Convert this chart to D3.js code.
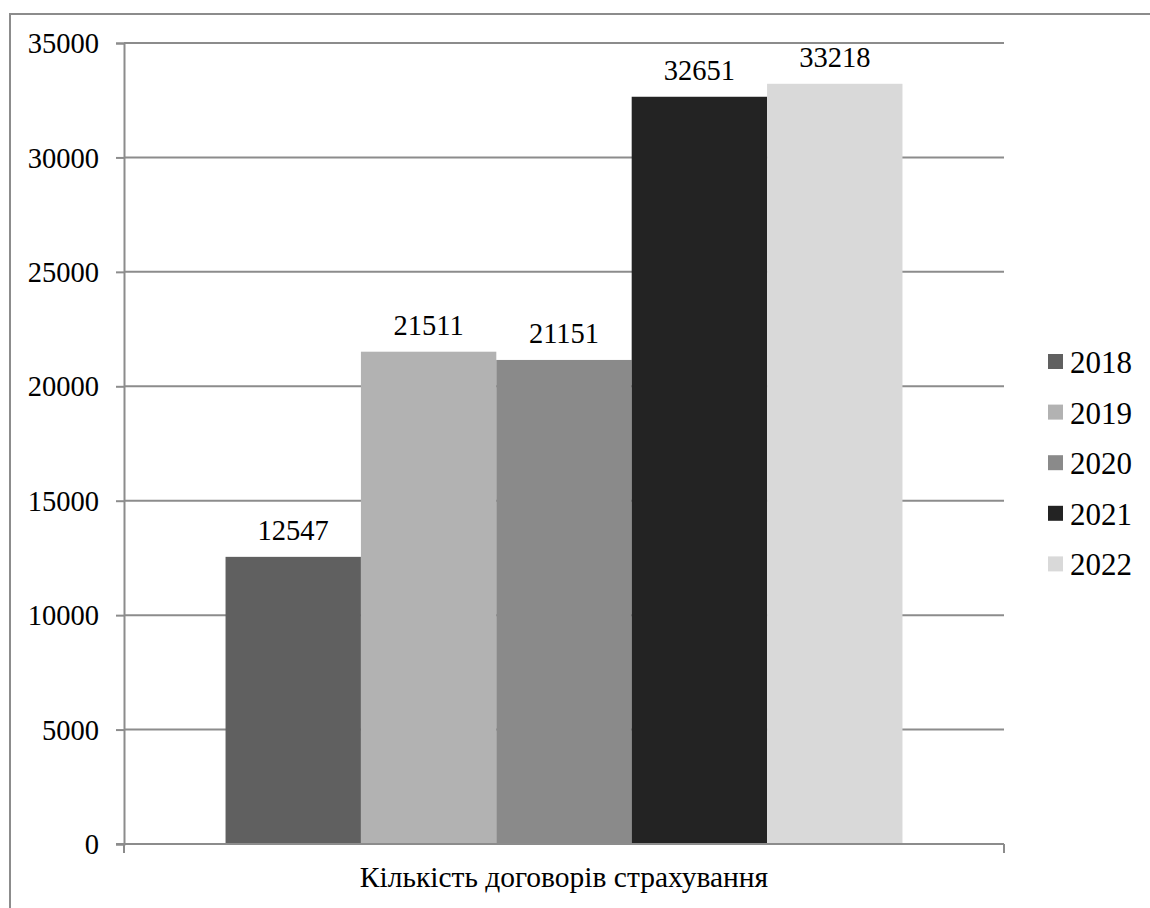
<!DOCTYPE html>
<html>
<head>
<meta charset="utf-8">
<script src="https://cdn.jsdelivr.net/npm/d3@7"></script>
<style>
    body { margin: 0; background: #fff; }
    svg { display: block; }
    text { font-family: "Liberation Serif", "Times New Roman", serif; fill: #000; }
</style>
</head>
<body>
<svg id="chart" width="1150" height="908"></svg>
<script>

// Chart data
const category = "Кількість договорів страхування";
const years = ["2018", "2019", "2020", "2021", "2022"];
const values = [12547, 21511, 21151, 32651, 33218];
const colors = ["#606060", "#b2b2b2", "#8a8a8a", "#232323", "#d9d9d9"];
const yTicks = [0, 5000, 10000, 15000, 20000, 25000, 30000, 35000];

const svg = d3.select("#chart");
const plot = { left: 124, right: 1004, top: 43, bottom: 844 };
const axisGray = "#8c8c8c";

// Outer chart border (right / bottom edges fall outside the picture).
svg.append("rect")
    .attr("x", 10)
    .attr("y", 14)
    .attr("width", 1300)
    .attr("height", 1000)
    .attr("fill", "none")
    .attr("stroke", axisGray)
    .attr("stroke-width", 2);

// Scales
const y = d3.scaleLinear()
    .domain([0, 35000])
    .range([plot.bottom, plot.top]);

// One category, 150% gap width -> outer padding of 0.15 step on each side.
const x0 = d3.scaleBand()
    .domain([category])
    .range([plot.left, plot.right])
    .paddingOuter(0.15)
    .paddingInner(0);

const x1 = d3.scaleBand()
    .domain(years)
    .range([0, x0.bandwidth()]);

// Gridlines
svg.append("g")
    .selectAll("line")
    .data(yTicks.filter(d => d > 0))
    .join("line")
        .attr("x1", plot.left)
        .attr("x2", plot.right)
        .attr("y1", d => y(d))
        .attr("y2", d => y(d))
        .attr("stroke", axisGray)
        .attr("stroke-width", 2);

// Y axis
const yAxis = svg.append("g")
    .attr("transform", `translate(${plot.left},0)`)
    .call(d3.axisLeft(y).tickValues(yTicks).tickSize(8).tickPadding(17).tickFormat(d3.format("d")));
yAxis.select(".domain").attr("stroke", axisGray).attr("stroke-width", 2);
yAxis.selectAll(".tick line").attr("stroke", axisGray).attr("stroke-width", 2);
yAxis.selectAll(".tick text")
    .attr("font-family", "Liberation Serif, serif")
    .attr("font-size", 28.5)
    .attr("dy", "0.34em");

// Bars
const bars = svg.append("g")
    .attr("transform", `translate(${x0(category)},0)`);

bars.selectAll("rect")
    .data(years.map((yr, i) => ({ year: yr, value: values[i], color: colors[i] })))
    .join("rect")
        .attr("x", d => x1(d.year))
        .attr("y", d => y(d.value))
        .attr("width", x1.bandwidth())
        .attr("height", d => y(0) - y(d.value))
        .attr("fill", d => d.color);

// Data labels
bars.selectAll("text")
    .data(years.map((yr, i) => ({ year: yr, value: values[i] })))
    .join("text")
        .attr("x", d => x1(d.year) + x1.bandwidth() / 2)
        .attr("y", d => y(d.value) - 17)
        .attr("text-anchor", "middle")
        .attr("font-size", 28.5)
        .text(d => d.value);

// X axis line with end ticks
const xAxis = svg.append("g");
xAxis.append("line")
    .attr("x1", plot.left - 8)
    .attr("x2", plot.right)
    .attr("y1", y(0))
    .attr("y2", y(0))
    .attr("stroke", axisGray)
    .attr("stroke-width", 2);
xAxis.selectAll("line.tick")
    .data([plot.left, plot.right])
    .join("line")
        .classed("tick", true)
        .attr("x1", d => d)
        .attr("x2", d => d)
        .attr("y1", y(0))
        .attr("y2", y(0) + 9)
        .attr("stroke", axisGray)
        .attr("stroke-width", 2);
xAxis.append("text")
    .attr("x", x0(category) + x0.bandwidth() / 2)
    .attr("y", 887)
    .attr("text-anchor", "middle")
    .attr("font-size", 29.5)
    .text(category);

// Legend
const legend = svg.append("g")
    .selectAll("g")
    .data(years.map((yr, i) => ({ year: yr, color: colors[i] })))
    .join("g")
        .attr("transform", (d, i) => `translate(1048,${362 + i * 50.6})`);
legend.append("rect")
    .attr("x", 0)
    .attr("y", -8)
    .attr("width", 15)
    .attr("height", 15)
    .attr("fill", d => d.color);
legend.append("text")
    .attr("x", 22)
    .attr("y", 11)
    .attr("font-size", 31)
    .text(d => d.year);

</script>
</body>
</html>
